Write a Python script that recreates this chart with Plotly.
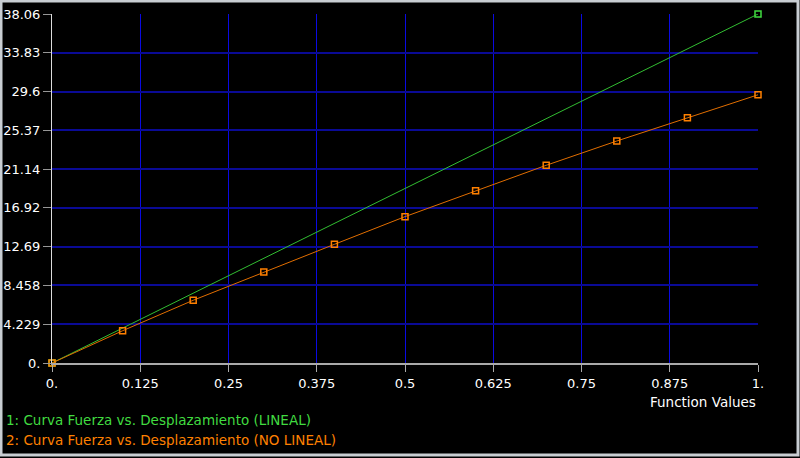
import plotly.graph_objects as go

GREEN = "rgb(64, 220, 64)"
ORANGE = "rgb(255, 128, 0)"
FONT = "DejaVu Sans"

# data
x_lineal = [0.0, 1.0]
y_lineal = [0.0, 38.06]

x_no_lineal = [0.0, 0.1, 0.2, 0.3, 0.4, 0.5, 0.6, 0.7, 0.8, 0.9, 1.0]
y_no_lineal = [0.0, 3.52, 6.84, 9.92, 12.94, 15.96, 18.79, 21.56, 24.21, 26.75, 29.25]

x_ticks = [0, 0.125, 0.25, 0.375, 0.5, 0.625, 0.75, 0.875, 1.0]
x_labels = ["0.", "0.125", "0.25", "0.375", "0.5", "0.625", "0.75", "0.875", "1."]
y_ticks = [0, 4.229, 8.458, 12.69, 16.92, 21.14, 25.37, 29.6, 33.83, 38.06]
y_labels = ["0.", "4.229", "8.458", "12.69", "16.92", "21.14", "25.37", "29.6", "33.83", "38.06"]

series_names = [
    "1: Curva Fuerza vs. Desplazamiento (LINEAL)",
    "2: Curva Fuerza vs. Desplazamiento (NO LINEAL)",
]

W, H = 800, 458
L, R, T, B = 52, 42, 14, 95
pw, ph = W - L - R, H - T - B


def px_x(p):
    return (p - L) / pw


def px_y(p):
    return (H - B - p) / ph


fig = go.Figure()
fig.add_trace(
    go.Scatter(
        x=x_lineal,
        y=y_lineal,
        mode="lines+markers",
        line=dict(color="rgb(50, 190, 50)", width=1),
        marker=dict(symbol="square-open", size=6, color=GREEN, line=dict(width=1.5)),
        cliponaxis=False,
        name=series_names[0],
    )
)
fig.add_trace(
    go.Scatter(
        x=x_no_lineal,
        y=y_no_lineal,
        mode="lines+markers",
        line=dict(color="rgb(225, 110, 0)", width=1),
        marker=dict(symbol="square-open", size=6, color=ORANGE, line=dict(width=1.5)),
        cliponaxis=False,
        name=series_names[1],
    )
)

fig.update_xaxes(
    range=[0, 1],
    tickvals=x_ticks,
    ticktext=x_labels,
    showgrid=True,
    gridcolor="rgb(10, 10, 225)",
    gridwidth=1,
    zeroline=False,
    showline=True,
    linecolor="rgb(170, 170, 170)",
    linewidth=2,
    ticks="outside",
    ticklen=7,
    tickcolor="rgb(170, 170, 170)",
    tickfont=dict(color="white", size=13, family=FONT),
    automargin=False,
)
fig.update_yaxes(
    range=[0, 38.06],
    tickvals=y_ticks,
    ticktext=y_labels,
    showgrid=True,
    gridcolor="rgb(10, 10, 150)",
    gridwidth=2,
    zeroline=False,
    showline=True,
    linecolor="rgb(220, 220, 220)",
    linewidth=1,
    ticks="outside",
    ticklen=8,
    tickcolor="rgb(150, 150, 150)",
    tickfont=dict(color="white", size=13, family=FONT),
    automargin=False,
)

annotations = [
    dict(
        text="Function Values",
        xref="paper", yref="paper",
        x=1, y=px_y(402),
        xanchor="right", yanchor="middle",
        showarrow=False,
        font=dict(color="white", size=13.5, family=FONT),
    )
]
for i, (name, col) in enumerate(zip(series_names, [GREEN, ORANGE])):
    annotations.append(
        dict(
            text=name,
            xref="paper", yref="paper",
            x=px_x(4), y=px_y(420 + 20 * i),
            xanchor="left", yanchor="middle",
            showarrow=False,
            font=dict(color=col, size=13.5, family=FONT),
        )
    )

# window frame around the black canvas
fig.add_shape(
    type="rect",
    xref="paper", yref="paper",
    x0=px_x(1), x1=px_x(W - 2),
    y0=px_y(H - 3), y1=px_y(1),
    line=dict(color="rgb(200, 205, 210)", width=3),
    fillcolor="rgba(0,0,0,0)",
    layer="above",
)

fig.update_layout(
    width=W,
    height=H,
    margin=dict(l=L, r=R, t=T, b=B),
    paper_bgcolor="black",
    plot_bgcolor="black",
    showlegend=False,
    annotations=annotations,
    font=dict(family=FONT, color="white"),
)

fig.write_html(
    "out.html",
    config={"displayModeBar": False},
    post_script="document.body.style.margin='0';document.body.style.background='black';",
)
